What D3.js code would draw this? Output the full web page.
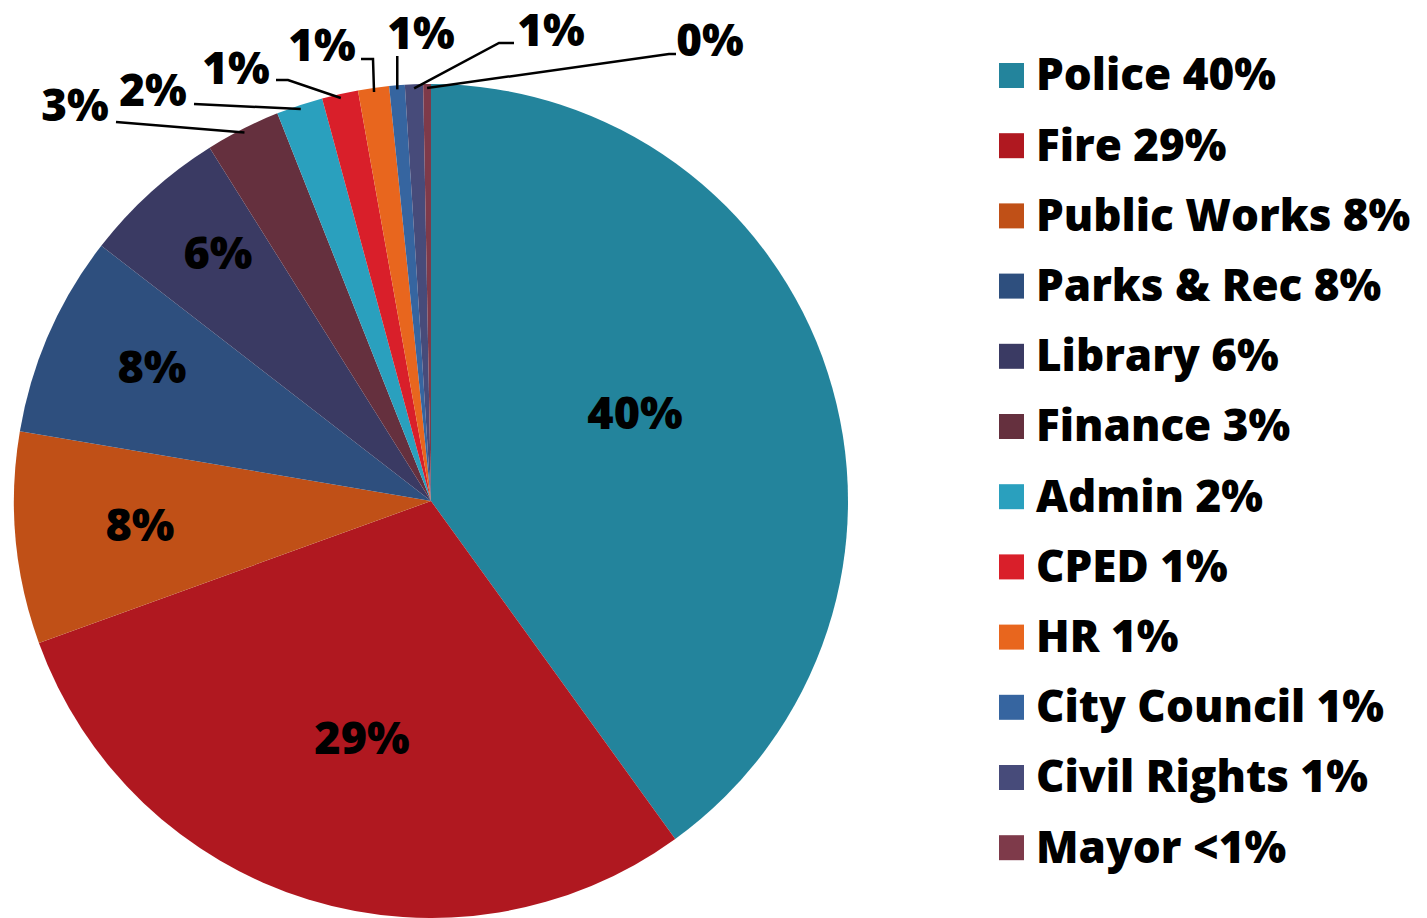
<!DOCTYPE html>
<html>
<head>
<meta charset="utf-8">
<script src="https://cdn.jsdelivr.net/npm/d3@7"></script>
<style>
  body { margin: 0; background: #fff; }
  text { font-family: "Open Sans", "DejaVu Sans", sans-serif; font-weight: 800; fill: #000; }
</style>
</head>
<body>
<svg width="1427" height="918"></svg>
<script>
var svg = d3.select("svg");

// data
var depts = ["Police", "Fire", "Public Works", "Parks & Rec", "Library", "Finance",
             "Admin", "CPED", "HR", "City Council", "Civil Rights", "Mayor"];
var shares = [40.0, 29.4, 8.2, 7.8, 5.6, 2.9, 1.8, 1.4, 1.2, 0.6, 0.7, 0.3];
var legendPct = ["40%", "29%", "8%", "8%", "6%", "3%", "2%", "1%", "1%", "1%", "1%", "<1%"];
var colors = ["#23849c", "#b01820", "#c05017", "#2e4f7e", "#3a3a63", "#65303e",
              "#2aa0be", "#d91f2a", "#e8661e", "#3665a0", "#474b7a", "#7e3a4a"];

var cx = 431, cy = 501, radius = 417;

// label layout: big slices inside, small ones outside with leader lines
var insidePos = {0: [635, 413], 1: [362, 738], 2: [140, 525], 3: [152, 367], 4: [218, 253]};
var outside = {
  5:  {lx: 75,  ly: 106, ex: 116, ey: 122},
  6:  {lx: 153, ly: 91,  ex: 194, ey: 104},
  7:  {lx: 236, ly: 69,  bx: 288, by: 80, ex: 276, ey: 80},
  8:  {lx: 322, ly: 46,  bx: 373, by: 59, ex: 361, ey: 59},
  9:  {lx: 421, ly: 34,  ex: null, ey: 56},
  10: {lx: 551, ly: 31,  bx: 499, by: 43, ex: 514, ey: 43},
  11: {lx: 710, ly: 41,  bx: 669, by: 54, ex: 676, ey: 54}
};

var total = d3.sum(shares);
var pct = function(i) { return Math.round(shares[i] / total * 100) + "%"; };
var pie = d3.pie().sort(null).value(function(d) { return d; });
var arcs = pie(shares);
var arc = d3.arc().innerRadius(0).outerRadius(radius);

var g = svg.append("g").attr("transform", "translate(" + cx + "," + cy + ")");

g.selectAll(".slice")
    .data(arcs)
  .enter().append("path")
    .attr("class", "slice")
    .attr("d", arc)
    .attr("fill", function(d, i) { return colors[i]; });

Object.keys(insidePos).forEach(function(k) {
  svg.append("text")
    .attr("x", insidePos[k][0])
    .attr("y", insidePos[k][1])
    .attr("dy", "0.35em")
    .attr("text-anchor", "middle")
    .style("font-size", "45px")
    .text(pct(+k));
});

Object.keys(outside).forEach(function(k) {
  var i = +k, o = outside[k], a = arcs[i];
  var mid = (a.startAngle + a.endAngle) / 2;
  var sx = cx + Math.sin(mid) * (radius - 4), sy = cy - Math.cos(mid) * (radius - 4);
  var pts = [[sx, sy]];
  if (o.ex === null) pts.push([sx, o.ey]);
  else {
    if (o.bx !== undefined) pts.push([o.bx, o.by]);
    pts.push([o.ex, o.ey]);
  }
  svg.append("path")
    .attr("d", d3.line()(pts))
    .attr("fill", "none")
    .attr("stroke", "#000")
    .attr("stroke-width", 2.5);
  svg.append("text")
    .attr("x", o.lx)
    .attr("y", o.ly)
    .attr("dy", "0.35em")
    .attr("text-anchor", "middle")
    .style("font-size", "44px")
    .text(pct(i));
});

// legend
var legend = svg.append("g").attr("transform", "translate(999,75)");
var row = legend.selectAll(".row")
    .data(depts)
  .enter().append("g")
    .attr("class", "row")
    .attr("transform", function(d, i) { return "translate(0," + (i * 70.2) + ")"; });
row.append("rect")
    .attr("x", 0).attr("y", -12)
    .attr("width", 25).attr("height", 25)
    .attr("fill", function(d, i) { return colors[i]; });
row.append("text")
    .attr("x", 37)
    .attr("dy", "0.35em")
    .style("font-size", "44px")
    .text(function(d, i) { return d + " " + legendPct[i]; });
</script>
</body>
</html>
